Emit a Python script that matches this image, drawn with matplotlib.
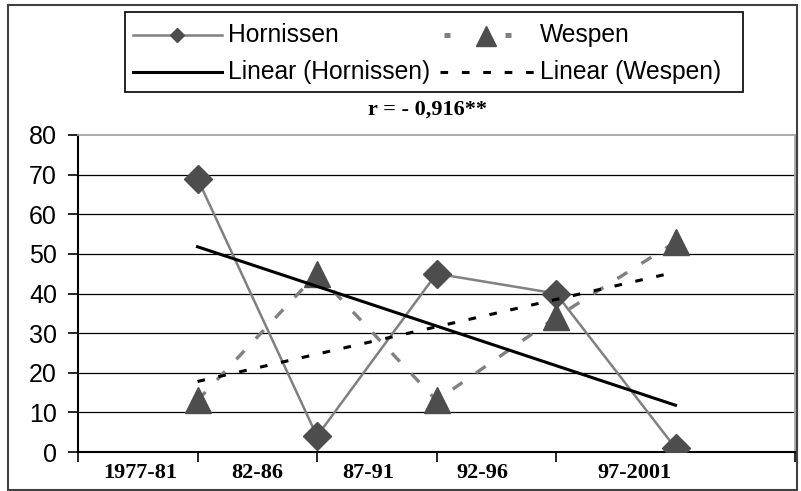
import numpy as np
import matplotlib
matplotlib.use("Agg")
import matplotlib.pyplot as plt
from matplotlib.lines import Line2D
from matplotlib.patches import Rectangle

# ---- data ----
categories = ["1977-81", "82-86", "87-91", "92-96", "97-2001"]
hornissen = [69, 4, 45, 40, 1]
wespen = [13, 45, 13, 34, 53]
series_names = ["Hornissen", "Wespen", "Linear (Hornissen)", "Linear (Wespen)"]
title_text = "r = - 0,916**"
y_ticks = [0, 10, 20, 30, 40, 50, 60, 70, 80]

# label placement along the category axis (as drawn in the original)
label_pos = [0.52, 1.50, 2.43, 3.38, 4.66]

W, H = 801, 491
fig = plt.figure(figsize=(W / 100, H / 100), dpi=100)
fig.patch.set_facecolor("white")

def fx(x):
    return x / W

def fy(y):
    return 1 - y / H

ax = fig.add_axes([fx(78), fy(452), (795 - 78) / W, (452 - 135) / H])

x = np.arange(1, len(categories) + 1)

GRAY = "#808080"
DARK = "#4d4d4d"

ax.plot(x, hornissen, color=GRAY, lw=1.8, marker="D", ms=14.5,
        mfc=DARK, mec=DARK, zorder=3)
ax.plot(x, wespen, color=GRAY, lw=2.4, dashes=(3.5, 5.0), marker="^", ms=19,
        mfc=DARK, mec=DARK, zorder=4)

ph = np.polyfit(x, hornissen, 1)
pw = np.polyfit(x, wespen, 1)
ax.plot(x, np.polyval(ph, x), color="black", lw=2.2, zorder=5)
ax.plot(x, np.polyval(pw, x), color="black", lw=2.2, dashes=(2.5, 4.5), zorder=5)

ax.set_xlim(0, 6)
ax.set_ylim(0, 80)
ax.set_yticks(y_ticks)
ax.set_yticklabels([str(v) for v in y_ticks], fontsize=18, family="Liberation Sans")
ax.tick_params(axis="y", length=7.2, width=1.2, direction="out", pad=8, colors="black")

ax.set_xticks([0, 1, 2, 3, 4, 6])
ax.set_xticklabels([])
ax.set_xticks(label_pos, minor=True)
ax.set_xticklabels(categories, minor=True, fontsize=16,
                   family="Liberation Serif", fontweight="bold")
ax.tick_params(axis="x", which="major", length=7.2, width=1.2, direction="out")
ax.tick_params(axis="x", which="minor", length=0, pad=8)

ax.yaxis.grid(True, color="black", lw=0.9)
ax.get_ygridlines()[-1].set_visible(False)
ax.set_axisbelow(True)

for s in ["left", "bottom"]:
    ax.spines[s].set_color("black")
    ax.spines[s].set_linewidth(1.5)
for s in ["top", "right"]:
    ax.spines[s].set_color("#a6a6a6")
    ax.spines[s].set_linewidth(1.3)

# ---- outer frame ----
fig.patches.append(Rectangle((fx(8), fy(490)), (797 - 8) / W, (490 - 5) / H,
                             transform=fig.transFigure, fill=False,
                             edgecolor="#404040", lw=1.5))

# ---- legend (drawn to mimic the original box) ----
fig.patches.append(Rectangle((fx(125), fy(92)), (743 - 125) / W, (92 - 12) / H,
                             transform=fig.transFigure, facecolor="white",
                             edgecolor="black", lw=1.2))
r1, r2 = 35, 72
fig.lines.append(Line2D([fx(133), fx(222)], [fy(r1), fy(r1)], transform=fig.transFigure,
                        color=GRAY, lw=1.8))
fig.lines.append(Line2D([fx(177)], [fy(r1)], transform=fig.transFigure, marker="D",
                        ms=7.5, mfc=DARK, mec=DARK, lw=0))
fig.lines.append(Line2D([fx(133), fx(222)], [fy(r2), fy(r2)], transform=fig.transFigure,
                        color="black", lw=2.2))
for a, b in [(444, 450), (505, 511)]:
    fig.lines.append(Line2D([fx(a), fx(b)], [fy(r1), fy(r1)], transform=fig.transFigure,
                            color=GRAY, lw=3.6, solid_capstyle="butt"))
fig.lines.append(Line2D([fx(486)], [fy(r1 + 1)], transform=fig.transFigure, marker="^",
                        ms=15, mfc=DARK, mec=DARK, lw=0))
fig.lines.append(Line2D([fx(440), fx(535)], [fy(r2), fy(r2)], transform=fig.transFigure,
                        color="black", lw=2.2, dashes=(2.5, 4.5)))
legend_text_pos = [(228, r1), (540, r1), (228, r2), (540, r2)]
for name, (tx, ty) in zip(series_names, legend_text_pos):
    fig.text(fx(tx), fy(ty), name, fontsize=17.7, family="Liberation Sans",
             ha="left", va="center")

fig.text(fx(428), fy(110), title_text, fontsize=16, family="Liberation Serif",
         fontweight="bold", ha="center", va="center")

fig.savefig("out.png", dpi=100)
